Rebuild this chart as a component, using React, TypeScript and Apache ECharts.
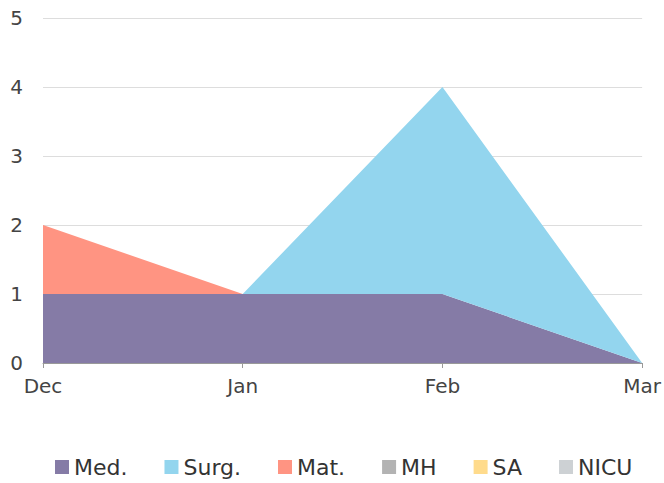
import React, { useEffect, useRef } from "react";
import * as echarts from "echarts";

const categories = ["Dec", "Jan", "Feb", "Mar"];
const seriesNames = ["Med.", "Surg.", "Mat.", "MH", "SA", "NICU"];
const medValues = [1, 1, 1, 0];
const surgValues = [0, 0, 3, 0];
const matValues = [1, 0, 0, 0];
const mhValues = [0, 0, 0, 0];
const saValues = [0, 0, 0, 0];
const nicuValues = [0, 0, 0, 0];
const colors = ["#857ba6", "#93d5ee", "#ff9482", "#b3b3b3", "#ffdb8c", "#cdd1d4"];

export default function App() {
  const ref = useRef<HTMLDivElement>(null);
  useEffect(() => {
    const chart = echarts.init(ref.current!, null, { renderer: "svg" });
    const data = [medValues, surgValues, matValues, mhValues, saValues, nicuValues];
    const font = "DejaVu Sans";
    chart.setOption({
      animation: false,
      color: colors,
      grid: { left: 43, right: 21, top: 18, bottom: 120, containLabel: false },
      legend: {
        top: 451,
        left: 50,
        icon: "rect",
        itemWidth: 14,
        itemHeight: 14,
        itemGap: 37,
        textStyle: { fontFamily: font, fontSize: 22, color: "#333" },
        data: seriesNames,
      },
      xAxis: {
        type: "category",
        data: categories,
        boundaryGap: false,
        axisLine: { lineStyle: { color: "#999" } },
        axisTick: { alignWithLabel: true, lineStyle: { color: "#999" } },
        axisLabel: { fontFamily: font, fontSize: 20, color: "#444", margin: 13 },
      },
      yAxis: {
        type: "value",
        min: 0,
        max: 5,
        interval: 1,
        axisLine: { show: false },
        axisTick: { show: false },
        splitLine: { lineStyle: { color: "#ddd" } },
        axisLabel: { fontFamily: font, fontSize: 20, color: "#444", margin: 20 },
      },
      series: seriesNames.map((name, i) => ({
        name,
        type: "line",
        stack: "total",
        data: data[i],
        symbol: "none",
        lineStyle: { width: 0 },
        areaStyle: { opacity: 1, color: colors[i] },
      })),
    });
    return () => chart.dispose();
  }, []);
  return <div ref={ref} style={{ width: 664, height: 483, position: "absolute", left: 0, top: 0 }} />;
}
